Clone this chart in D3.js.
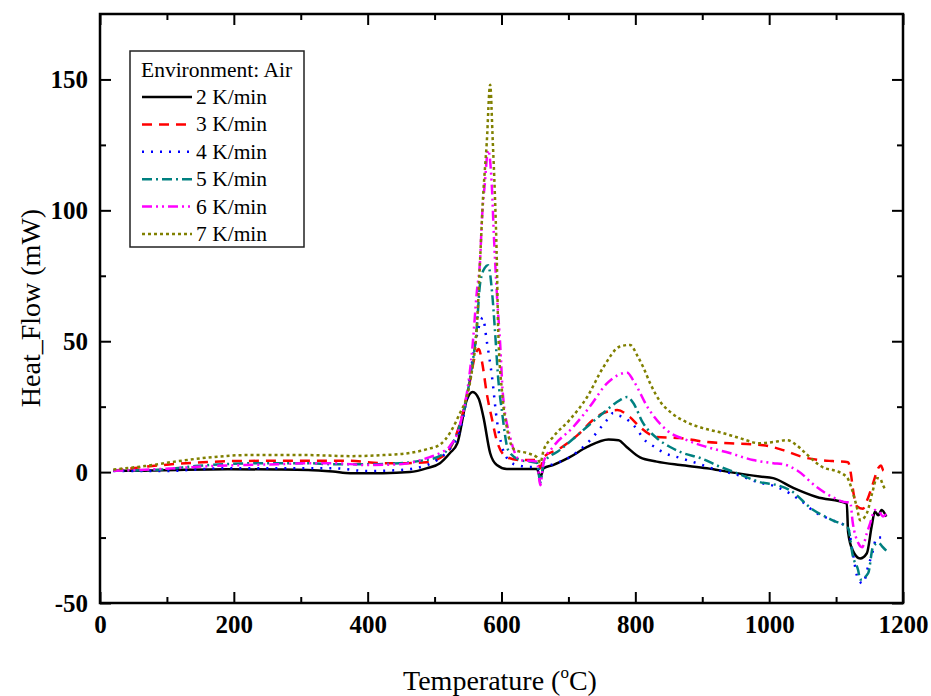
<!DOCTYPE html>
<html>
<head>
<meta charset="utf-8">
<script src="https://cdn.jsdelivr.net/npm/d3@7"></script>
<style>
  html, body { margin: 0; padding: 0; background: #fff; }
  svg { display: block; }
  text { font-family: "Liberation Serif", "Times New Roman", serif; }
</style>
</head>
<body>
<svg id="chart" width="931" height="696"></svg>
<script>
// ---- data (temperature in °C, heat flow in mW) ----
const seriesNames = ["2 K/min", "3 K/min", "4 K/min", "5 K/min", "6 K/min", "7 K/min"];

const t2 = [20, 42, 93, 191, 266, 311, 348, 374, 423, 463, 489, 508, 523, 534, 548, 557, 566, 573, 583, 593, 608, 630, 653, 658, 663, 677, 702, 728, 760, 775, 787, 807, 832, 867, 907, 941, 986, 1006, 1036, 1071, 1116, 1118, 1125, 1136, 1146, 1153, 1158, 1163, 1168, 1175];
const h2 = [0.5, 0.5, 0.7, 1.1, 1.0, 0.8, 0.2, -0.4, -0.4, 0, 1.5, 3.4, 7.3, 11, 27.5, 30.6, 28, 21, 7.3, 2.7, 1.2, 1.2, 1.2, -2, 1.5, 2.7, 5.7, 9.6, 12.5, 12.2, 9.6, 5.6, 4, 2.7, 1.5, 0, -1.7, -2.3, -6, -9.5, -12, -23, -30, -33, -31, -21, -15, -16.5, -14.5, -17];

const t3 = [20, 93, 142, 197, 242, 311, 374, 423, 448, 488, 508, 523, 538, 553, 560, 566, 571, 578, 586, 593, 608, 628, 653, 658, 663, 687, 717, 737, 752, 773, 792, 807, 832, 867, 907, 941, 991, 1021, 1051, 1076, 1095, 1118, 1122, 1126, 1131, 1140, 1146, 1155, 1163, 1167, 1171, 1175];
const h3 = [0.5, 2.7, 3.6, 4.2, 4.3, 4.3, 4.3, 3.4, 3.4, 3.8, 5.4, 9, 18.7, 35, 44, 47, 42, 30, 20, 12, 5.7, 4.6, 4.6, 1.5, 5.7, 9, 14.9, 20, 22.5, 23.7, 21, 17.2, 13.4, 13, 11.5, 11, 10.3, 8.4, 5.7, 4.6, 4.2, 3.8, -0.4, -8, -13, -14, -11, -4.5, 1.5, 2.5, 0.5, 1.5];

const t4 = [20, 93, 191, 291, 348, 399, 448, 489, 508, 523, 538, 548, 556, 560, 568, 572, 578, 586, 593, 601, 613, 623, 643, 653, 658, 663, 677, 702, 728, 758, 767, 773, 782, 797, 817, 829, 841, 867, 892, 922, 952, 982, 1012, 1046, 1071, 1095, 1118, 1125, 1133, 1140, 1148, 1154, 1161, 1169, 1175];
const h4 = [0.4, 0.4, 1.5, 1.5, 1.5, 0.4, 0.8, 2.7, 5.4, 9, 16, 28, 42, 48, 57, 59, 50, 36, 20, 9.6, 4, 2.7, 2, 2, 0, 2, 3, 5.7, 11, 20, 22.6, 21.8, 21, 18, 11.5, 9.6, 7.6, 5.4, 3.4, 0.8, -1, -3.8, -5.7, -10.7, -15.7, -18.4, -21.4, -31, -41, -42.5, -36, -31, -25, -25, -26];

const t5 = [20, 93, 142, 242, 311, 348, 399, 448, 483, 504, 519, 534, 553, 563, 568, 575, 580, 586, 590, 595, 601, 610, 628, 643, 653, 658, 663, 687, 717, 752, 777, 788, 797, 811, 832, 852, 871, 897, 927, 952, 986, 1012, 1031, 1066, 1095, 1118, 1125, 1133, 1136, 1148, 1155, 1163, 1170, 1175];
const h5 = [0.5, 1, 2.3, 3.4, 3.4, 3, 3, 3.4, 4.5, 5.7, 8.4, 15, 36, 55, 72, 78, 79, 68.5, 55, 36, 22.6, 8.4, 4.6, 4, 3.5, -4, 3.5, 8.4, 14.9, 22.6, 27.5, 28.7, 26.4, 19, 13, 9.6, 7.3, 5.4, 2, -0.4, -3.8, -5, -6.9, -14.5, -18.4, -21.4, -32, -37.5, -41, -38.6, -28.7, -27, -28.7, -30];

const t6 = [20, 93, 167, 217, 266, 311, 348, 399, 448, 489, 508, 523, 538, 557, 563, 568, 571, 575, 580, 586, 588, 593, 598, 602, 613, 628, 653, 658, 663, 677, 707, 732, 758, 788, 797, 819, 847, 877, 907, 941, 976, 1006, 1021, 1041, 1071, 1095, 1116, 1121, 1125, 1133, 1139, 1146, 1151, 1158, 1166, 1170, 1175];
const h6 = [0.5, 1.2, 2.3, 2.7, 3, 3.4, 3.4, 2.7, 3, 5.4, 7.3, 10, 18, 49, 68.5, 81, 97.5, 110, 123, 107, 94, 68.5, 49, 30, 13.4, 4.6, 4, -5, 4, 9.6, 17.2, 25, 34, 38, 35, 24.5, 16, 12.2, 9.6, 7.3, 4.6, 3.4, 3, 0.8, -5.7, -9.6, -11.5, -11.5, -19.5, -27, -28.7, -23.3, -19.5, -14.5, -15.7, -17, -16];

const t7 = [20, 67, 117, 167, 217, 266, 311, 374, 423, 463, 489, 508, 523, 538, 548, 556, 563, 568, 572, 578, 583, 587, 590, 593, 595, 601, 608, 620, 638, 653, 658, 663, 677, 702, 728, 752, 777, 792, 804, 812, 822, 837, 854, 877, 901, 931, 956, 986, 1006, 1027, 1041, 1054, 1071, 1083, 1095, 1116, 1124, 1131, 1136, 1146, 1154, 1161, 1166, 1170, 1175];
const h7 = [1, 2.3, 4.2, 5.7, 6.5, 6.5, 6.5, 6.1, 6.5, 7.3, 8.8, 10.5, 15, 22.6, 28.7, 39, 55, 81, 103, 126, 148, 126, 107, 81, 55, 30, 17, 8.4, 7.3, 5.7, 3.5, 8.4, 13.4, 20, 28.7, 40, 48, 48.6, 44, 40, 34, 27, 22.6, 19, 16.8, 14.9, 13, 11, 11.5, 12.2, 10.3, 7.3, 3.4, 1.5, 0.8, -1.9, -6.9, -13.4, -18.4, -15.7, -8, -2.3, -2.5, -5, -7];

const xMajorTicks = [0, 200, 400, 600, 800, 1000, 1200];
const xMinorTicks = [100, 300, 500, 700, 900, 1100];
const yMajorTicks = [-50, 0, 50, 100, 150];
const yMinorTicks = [-25, 25, 75, 125];

const legendTitle = "Environment: Air";
const xTitle = "Temperature (";
const yTitle = "Heat_Flow (mW)";

// ---- styles ----
const colors = ["#000000", "#ff0000", "#0000ff", "#008080", "#ff00ff", "#808000"];
const dashes = [null, "10,7", "2,7", "10,4,2,4", "10,4,2,4,2,4", "3,3"];

const temps = [t2, t3, t4, t5, t6, t7];
const flows = [h2, h3, h4, h5, h6, h7];
const series = seriesNames.map((name, i) => ({
  name, color: colors[i], dash: dashes[i],
  points: temps[i].map((t, j) => ({ t, h: flows[i][j] }))
}));

// ---- layout ----
const svg = d3.select("#chart");
const L = 100, R = 903, T = 14, B = 603;
const x = d3.scaleLinear().domain([0, 1200]).range([L, R]);
const y = d3.scaleLinear().domain([-50, 175]).range([B, T]);
const fmt = d => String(d); // plain hyphen minus, as in the original

// curves
const line = d3.line().x(d => x(d.t)).y(d => y(d.h)).curve(d3.curveMonotoneX);
const gLines = svg.append("g");
series.forEach(s => {
  gLines.append("path")
    .datum(s.points)
    .attr("d", line)
    .attr("fill", "none")
    .attr("stroke", s.color)
    .attr("stroke-width", 2.5)
    .attr("stroke-dasharray", s.dash)
    .attr("stroke-linejoin", "round");
});

// axes (inward ticks on all sides)
function styleAxis(g) {
  g.select(".domain").remove();
  g.selectAll("line").attr("stroke", "#000").attr("stroke-width", 2);
  g.selectAll("text")
    .attr("font-family", "'Liberation Serif', serif")
    .attr("font-weight", "bold")
    .attr("font-size", 25)
    .attr("fill", "#000");
}
svg.append("g").attr("transform", `translate(0,${B})`)
  .call(d3.axisBottom(x).tickValues(xMajorTicks).tickSize(-11).tickPadding(12).tickFormat(fmt))
  .call(styleAxis);
svg.append("g").attr("transform", `translate(0,${B})`)
  .call(d3.axisBottom(x).tickValues(xMinorTicks).tickSize(-6).tickFormat(""))
  .call(styleAxis);
svg.append("g").attr("transform", `translate(0,${T})`)
  .call(d3.axisTop(x).tickValues(xMajorTicks).tickSize(-11).tickFormat(""))
  .call(styleAxis);
svg.append("g").attr("transform", `translate(0,${T})`)
  .call(d3.axisTop(x).tickValues(xMinorTicks).tickSize(-6).tickFormat(""))
  .call(styleAxis);
svg.append("g").attr("transform", `translate(${L},0)`)
  .call(d3.axisLeft(y).tickValues(yMajorTicks).tickSize(-11).tickPadding(12).tickFormat(fmt))
  .call(styleAxis);
svg.append("g").attr("transform", `translate(${L},0)`)
  .call(d3.axisLeft(y).tickValues(yMinorTicks).tickSize(-6).tickFormat(""))
  .call(styleAxis);
svg.append("g").attr("transform", `translate(${R},0)`)
  .call(d3.axisRight(y).tickValues(yMajorTicks).tickSize(-11).tickFormat(""))
  .call(styleAxis);
svg.append("g").attr("transform", `translate(${R},0)`)
  .call(d3.axisRight(y).tickValues(yMinorTicks).tickSize(-6).tickFormat(""))
  .call(styleAxis);

// frame
svg.append("rect")
  .attr("x", L).attr("y", T).attr("width", R - L).attr("height", B - T)
  .attr("fill", "none").attr("stroke", "#000").attr("stroke-width", 2.5);

// axis titles
const xt = svg.append("text")
  .attr("x", 500).attr("y", 690)
  .attr("text-anchor", "middle")
  .attr("font-size", 28).attr("fill", "#000");
xt.append("tspan").text(xTitle);
xt.append("tspan").text("o").attr("font-size", 17).attr("dy", -12);
xt.append("tspan").text("C)").attr("dy", 12);

svg.append("text")
  .attr("transform", `translate(40,308) rotate(-90)`)
  .attr("text-anchor", "middle")
  .attr("font-size", 28).attr("fill", "#000")
  .text(yTitle);

// legend
const lg = svg.append("g");
lg.append("rect")
  .attr("x", 130).attr("y", 51).attr("width", 174).attr("height", 196)
  .attr("fill", "#fff").attr("stroke", "#222").attr("stroke-width", 1.5);
lg.append("text")
  .attr("x", 141).attr("y", 77)
  .attr("font-size", 21.5).attr("fill", "#000")
  .text(legendTitle);
series.forEach((s, i) => {
  const yy = 97 + i * 27.4;
  lg.append("line")
    .attr("x1", 142).attr("x2", 192).attr("y1", yy).attr("y2", yy)
    .attr("stroke", s.color).attr("stroke-width", 2.5)
    .attr("stroke-dasharray", s.dash);
  lg.append("text")
    .attr("x", 196).attr("y", yy + 7)
    .attr("font-size", 21.5).attr("fill", "#000")
    .text(s.name);
});
</script>
</body>
</html>
